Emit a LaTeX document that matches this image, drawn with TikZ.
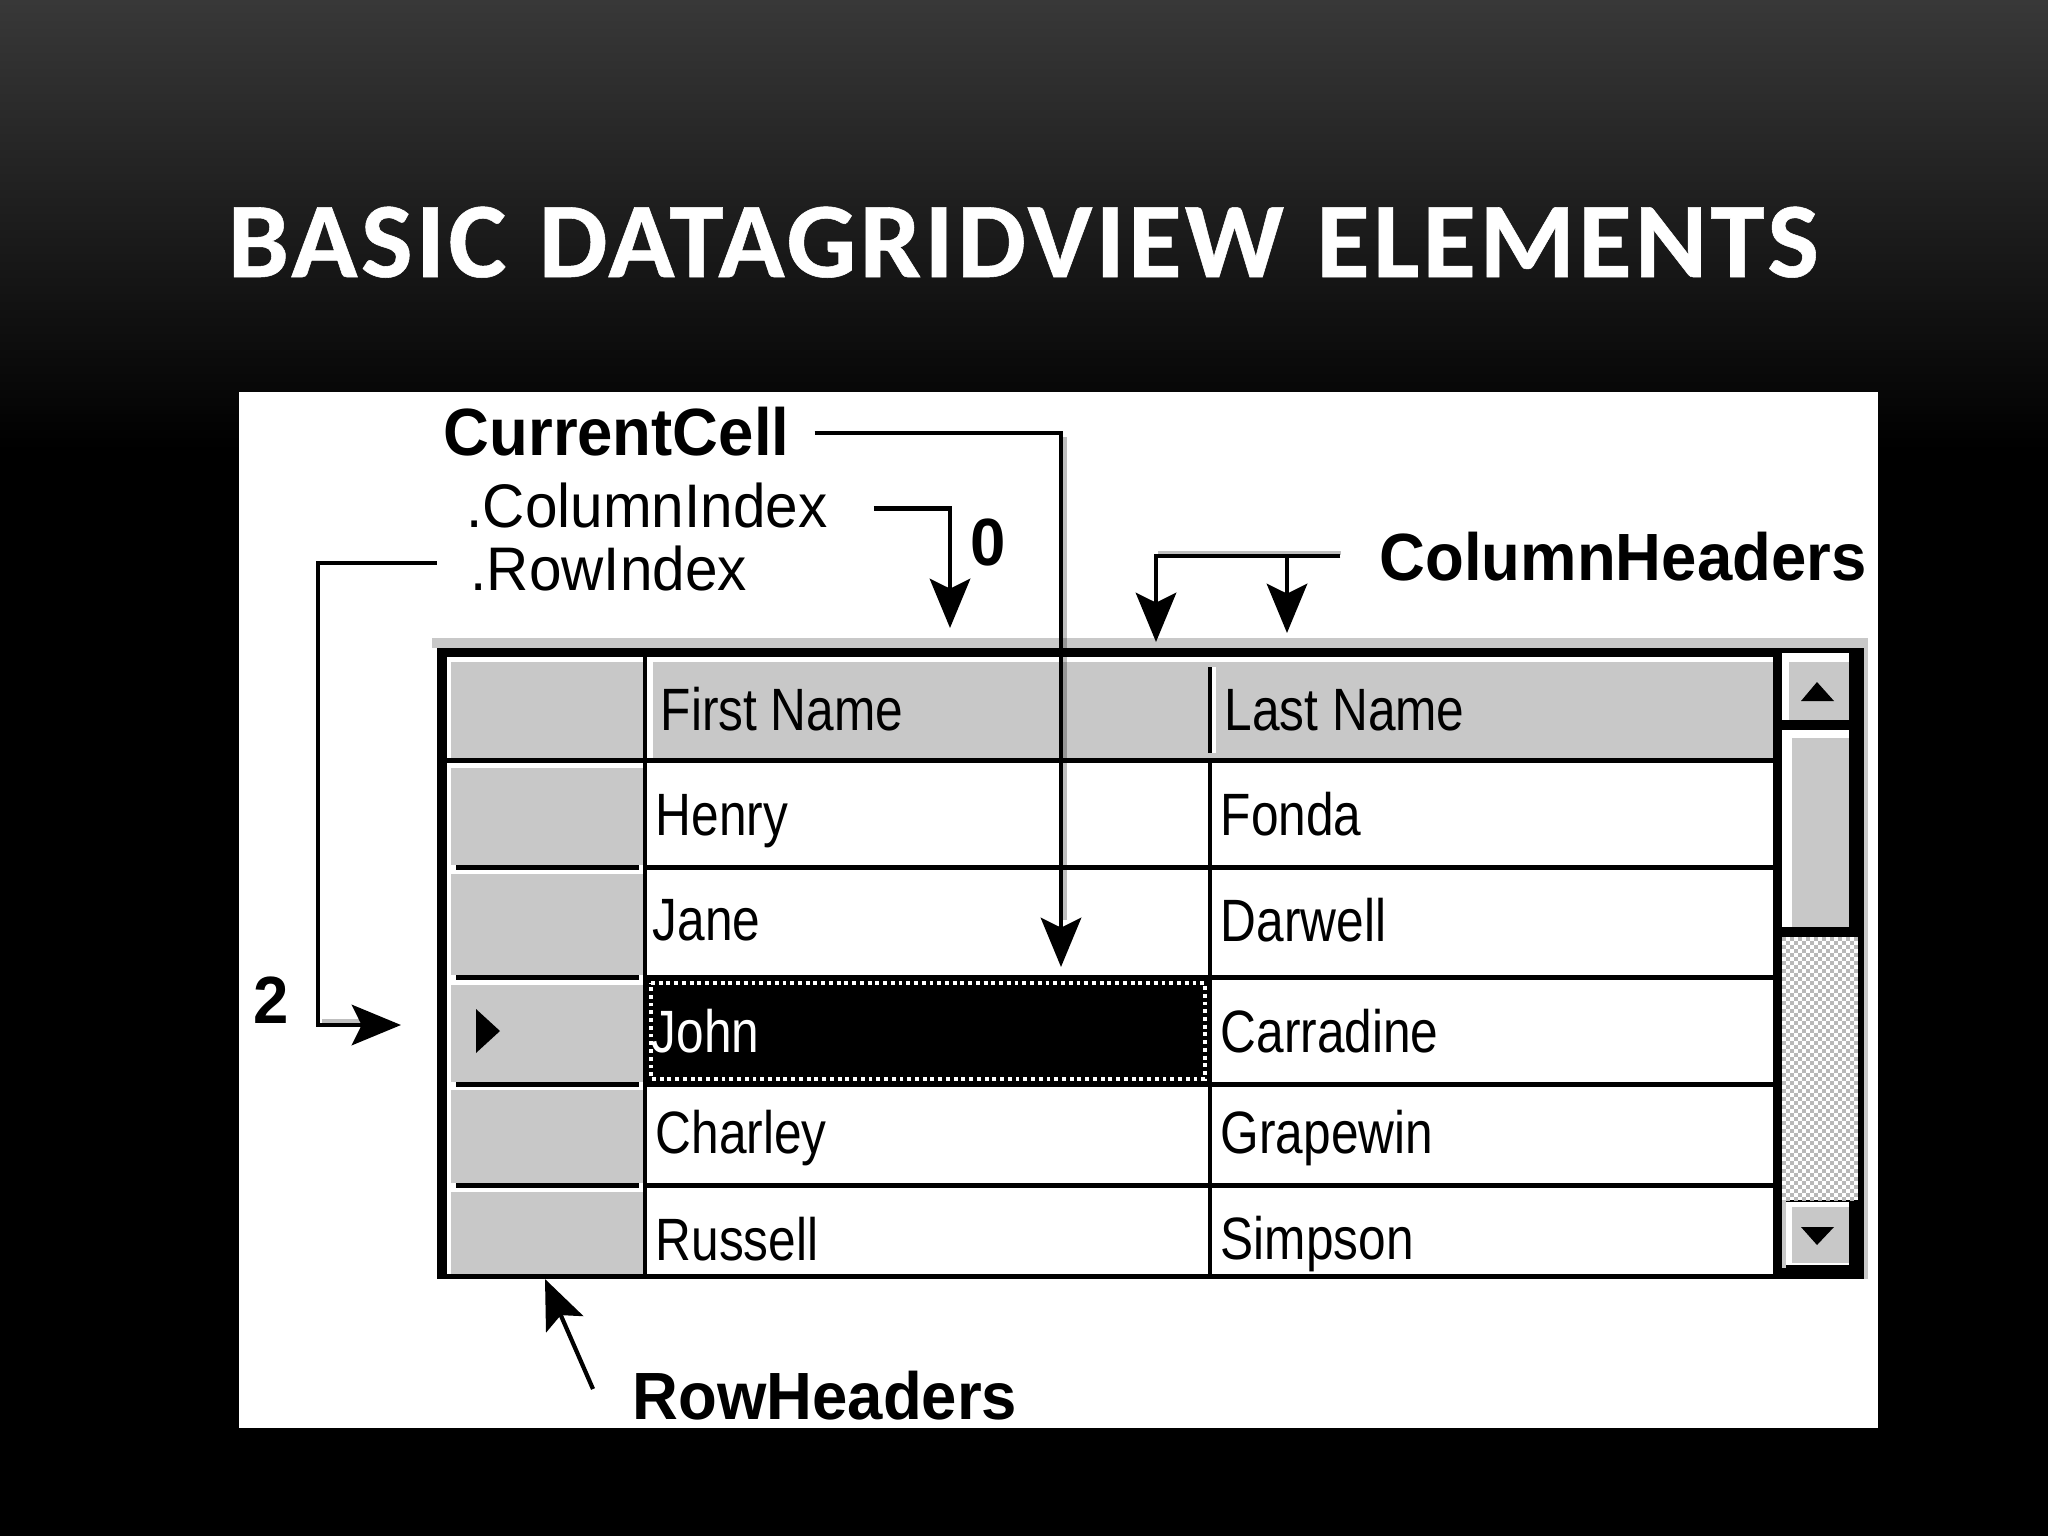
\documentclass[tikz,border=0pt]{standalone}
\usepackage{fontspec}
\usetikzlibrary{arrows.meta}
\newfontfamily\titlefont[LetterSpace=3.1,WordSpace=1.15,FakeStretch=1.02,BoldFeatures={FakeBold=0.5}]{Carlito}
\newfontfamily\gridfont[FakeStretch=0.83]{Liberation Sans}
\newfontfamily\labelfont[FakeStretch=0.95]{Liberation Sans}
\definecolor{gridgray}{HTML}{C8C8C8}
\tikzset{
  grid_text/.style={anchor=base west, inner sep=0pt, font=\gridfont\fontsize{17}{20}\selectfont},
  plain_label/.style={anchor=base west, inner sep=0pt, font=\labelfont\fontsize{17.5}{20}\selectfont},
  bold_label/.style={anchor=base west, inner sep=0pt, font=\labelfont\bfseries\fontsize{19}{22}\selectfont},
  conn/.style={draw=black, line width=1.2pt, >={Stealth[length=14pt,width=11.5pt,inset=2.8pt]}},
  conn_shadow/.style={draw=black, opacity=0.25, line width=1.1pt},
  gray_cell/.style={fill=gridgray, draw=none}
}
\begin{document}
\begin{tikzpicture}[x=0.01cm, y=-0.01cm]
  \useasboundingbox (0,0) rectangle (2048,1536);

  % slide
  \fill[black] (0,0) rectangle (2048,1536);
  \shade[top color=black!78, bottom color=black] (0,0) rectangle (2048,450);
  \node[anchor=base west, inner sep=0pt, text=white, font=\titlefont\bfseries\fontsize{30.5}{36}\selectfont] (title) at (227,277) {BASIC DATAGRIDVIEW ELEMENTS};
  \fill[white] (239,392) rectangle (1878,1428);

  % grid frame
  \fill[gridgray] (432,638) rectangle (1868,1279);
  \fill[white] (432,648) rectangle (437,1279);
  \fill[black] (437,648) rectangle (1864,1279);
  \fill[white] (447,657) rectangle (1773,1274);

  % headers
  \fill[gray_cell] (451,662) rectangle (643,758);
  \fill[gray_cell] (653,662) rectangle (1773,758);
  \fill[gray_cell] (451,768) rectangle (643,865);
  \fill[gray_cell] (451,874) rectangle (643,975);
  \fill[gray_cell] (451,985) rectangle (643,1082);
  \fill[gray_cell] (451,1090) rectangle (643,1183);
  \fill[gray_cell] (451,1192) rectangle (643,1274);
  \foreach \y in {867,977,1084,1185} {
    \fill[black] (456,\y-2) rectangle (639,\y+3);
    \fill[black] (644,\y-2) rectangle (1773,\y+3);
  }
  \fill[black] (447,758) rectangle (1773,763);
  \fill[black] (643,657) rectangle (647,1274);
  \fill[black] (1208,763) rectangle (1212,1274);
  \fill[black] (1208,667) rectangle (1212,753);
  \fill[white] (1212,667) rectangle (1216,753);

  % current cell
  \fill[black] (647,978) rectangle (1208,1084);
  \draw[white, line width=1.2pt, dash pattern=on 1.1pt off 1.1pt] (651,983) -- (1205,983) -- (1205,1079) -- (651,1079) -- cycle;
  \fill[black] (476,1009) -- (500,1031) -- (476,1053) -- cycle;

  % scroll bar
  \fill[white] (1782,653) rectangle (1849,720);
  \fill[gray_cell] (1789,662) rectangle (1849,720);
  \fill[black] (1801,701) -- (1834,701) -- (1817,682) -- cycle;
  \fill[white] (1782,730) rectangle (1849,927);
  \fill[gray_cell] (1792,738) rectangle (1849,927);
  \fill[white] (1782,937) rectangle (1858,1200);
  \foreach \i in {0,...,18} {
    \foreach \j in {0,...,65} {
      \pgfmathparse{int(mod(\i+\j,2))}
      \ifnum\pgfmathresult=0
        \fill[black!28] (1782+4*\i,937+4*\j) rectangle ++(4,4);
      \fi
    }
  }
  \fill[gridgray] (1782,1200) rectangle (1786,1268);
  \fill[white] (1786,1202) rectangle (1849,1265);
  \fill[gray_cell] (1792,1207) rectangle (1849,1263);
  \fill[black] (1801,1227) -- (1834,1227) -- (1817,1245) -- cycle;

  % cell texts
  \node[grid_text] (first_name) at (660,730) {First Name};
  \node[grid_text] (last_name) at (1224,730) {Last Name};
  \node[grid_text] (henry) at (655,835) {Henry};
  \node[grid_text] (fonda) at (1220,835) {Fonda};
  \node[grid_text] (jane) at (652,940) {Jane};
  \node[grid_text] (darwell) at (1220,941) {Darwell};
  \node[grid_text, text=white] (john) at (651,1052) {John};
  \node[grid_text] (carradine) at (1220,1052) {Carradine};
  \node[grid_text] (charley) at (655,1153) {Charley};
  \node[grid_text] (grapewin) at (1220,1153) {Grapewin};
  \node[grid_text] (russell) at (655,1260) {Russell};
  \node[grid_text] (simpson) at (1220,1259) {Simpson};

  % labels
  \node[bold_label] (current_cell) at (443,455) {CurrentCell};
  \node[plain_label] (column_index) at (466,527) {.ColumnIndex};
  \node[plain_label] (row_index) at (470,590) {.RowIndex};
  \node[bold_label] (column_headers) at (1379,580) {ColumnHeaders};
  \node[bold_label] (row_headers) at (632,1419) {RowHeaders};
  \node[bold_label] (col_value) at (970,565) {0};
  \node[bold_label] (row_value) at (253,1023) {2};

  \coordinate (current_tip) at (1061,967);
  \coordinate (column_tip) at (950,628);
  \coordinate (row_corner) at (318,1025);
  \coordinate (row_tip) at (401,1025);
  \coordinate (header_tip_a) at (1156,642);
  \coordinate (header_tip_b) at (1287,633);
  \coordinate (header_branch) at (1287,558);
  \coordinate (rowhead_tip) at (545,1279);
  \coordinate (rowhead_tail) at (593,1389);

  % connectors
  \path[conn_shadow] (1065,437) -- (1065,920);
  \path[conn_shadow] (1158,553) -- (1341,553);
  \path[conn_shadow] (322,1021) -- (360,1021);
  \path[conn, ->, shorten <=7pt] ([yshift=-0.6pt]current_cell.east) -| (current_tip);
  \path[conn, ->, shorten <=13pt] ([yshift=-1pt]column_index.east) -| (column_tip);
  \path[conn, ->, shorten <=9.5pt] ([yshift=1.4pt]row_index.west) -| (row_corner) -- (row_tip);
  \path[conn, ->, shorten <=11pt] (column_headers.west) -| (header_tip_a);
  \path[conn, ->] (header_branch) -- (header_tip_b);
  \path[conn, ->] (rowhead_tail) -- (rowhead_tip);
\end{tikzpicture}
\end{document}
